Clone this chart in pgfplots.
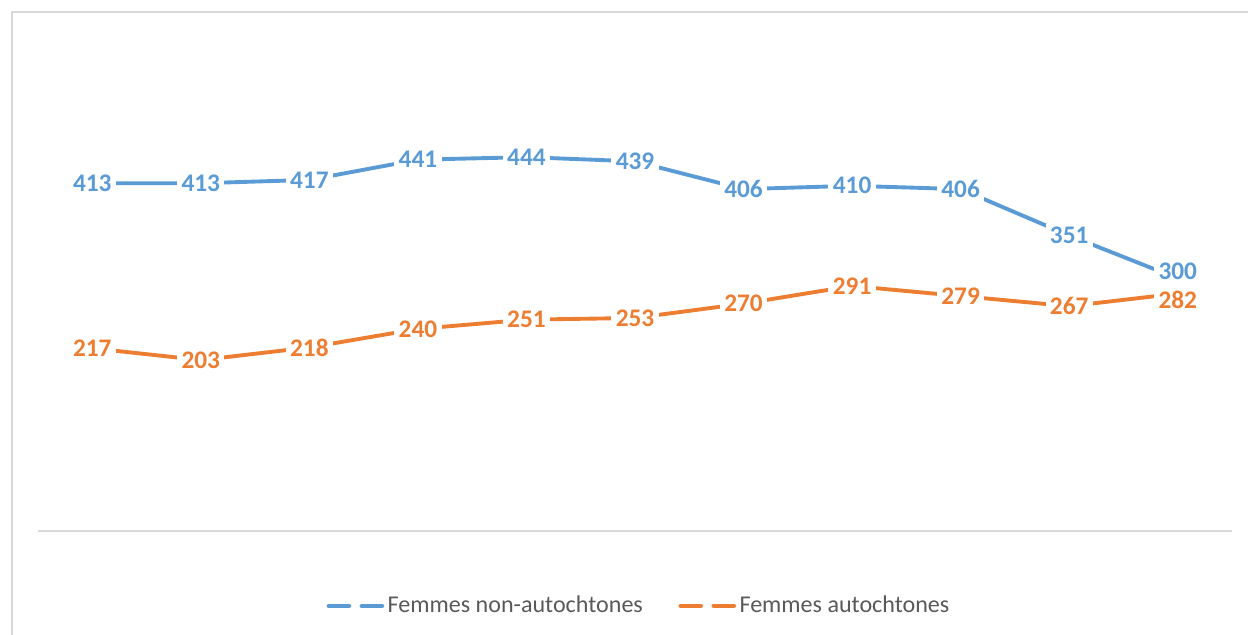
\documentclass[border=0pt]{standalone}
\usepackage{fontspec}
\setmainfont{Carlito}
\usepackage{pgfplots}
\pgfplotsset{compat=1.18}
\usepackage{pgfplotstable}

\definecolor{seriesblue}{HTML}{5B9BD5}
\definecolor{seriesorange}{HTML}{ED7D31}
\definecolor{framegray}{HTML}{D9D9D9}
\definecolor{textgray}{HTML}{595959}

% x = position, y = value, dy = label shift (cm)
\pgfplotstableread{
x y dy
0 413 0
1 413 0
2 417 0
3 441 0
4 444 0
5 439 0
6 406 0
7 410 0
8 406 0
9 351 0
10 300 0.15
}\nonautochtones

\pgfplotstableread{
x y dy
0 217 0
1 203 0
2 218 0
3 240 0
4 251 0
5 253 0
6 270 0
7 291 0
8 279 0
9 267 0
10 282 -0.13
}\autochtones

\begin{document}
\begin{tikzpicture}
  % 1 px of the reference = 0.02 cm
  \useasboundingbox (0,0) rectangle (24.96,12.7);
  % chart border (only top and left visible)
  \draw[framegray, line width=0.05cm] (0.24,0) -- (0.24,12.46) -- (24.96,12.46);

  \begin{axis}[
      at={(0.76cm,2.08cm)}, anchor=south west,
      scale only axis,
      width=23.88cm, height=8.42cm,
      xmin=-0.5, xmax=10.5,
      ymin=0, ymax=500,
      axis x line=bottom, axis y line=none,
      x axis line style={-, draw=framegray, line width=0.05cm},
      xtick=\empty, ytick=\empty,
      clip=false,
      /pgf/number format/assume math mode=true,
      nodes near coords,
      nodes near coords align={center},
      visualization depends on={\thisrow{dy}\as\dy},
      every node near coord/.append style={
          anchor=center, fill=white, inner xsep=2.5pt, inner ysep=2pt,
          font=\fontsize{14.4}{17}\selectfont\bfseries,
          yshift=\dy cm},
      legend style={
          at={(0.504,-0.178)}, anchor=center,
          draw=none, fill=none,
          legend columns=2,
          font=\fontsize{13.7}{16}\selectfont,
          text=textgray,
          /tikz/every odd column/.append style={column sep=0cm},
          /tikz/every even column/.append style={column sep=0.64cm},
      },
      legend image code/.code={
          \draw[#1, line width=2.6pt, line cap=round] (0cm,0cm) -- (0.4cm,0cm);
          \draw[#1, line width=2.6pt, line cap=round] (0.66cm,0cm) -- (1.06cm,0cm);
      },
    ]
    \addplot[seriesblue, line width=2.2pt, mark=none,
             every node near coord/.append style={text=seriesblue}]
      table[x=x, y=y] {\nonautochtones};
    \addplot[seriesorange, line width=2.2pt, mark=none,
             every node near coord/.append style={text=seriesorange}]
      table[x=x, y=y] {\autochtones};
    \legend{Femmes non-autochtones, Femmes autochtones}
  \end{axis}
\end{tikzpicture}
\end{document}
